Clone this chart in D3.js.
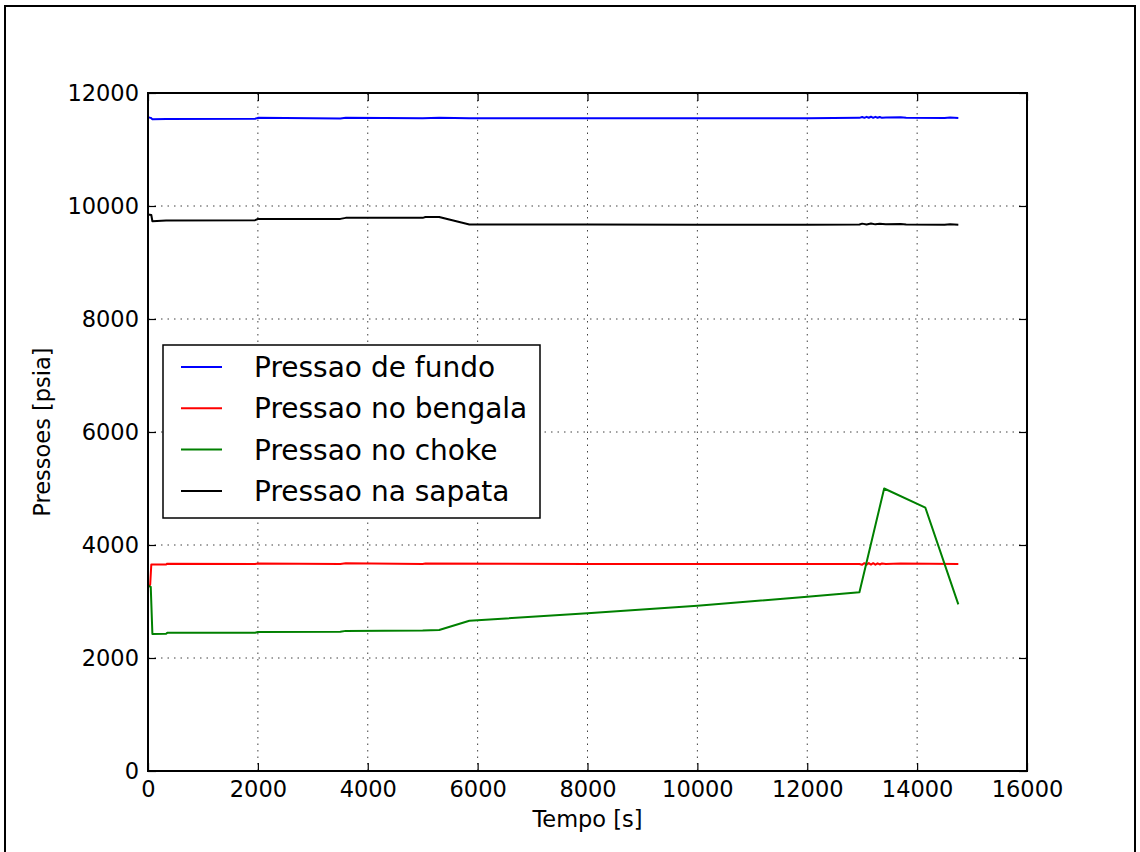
<!DOCTYPE html>
<html>
<head>
<meta charset="utf-8">
<script src="https://cdn.jsdelivr.net/npm/d3@7"></script>
<style>
  body { margin: 0; background: #fff; }
  svg { display: block; font-family: "DejaVu Sans", sans-serif; }
</style>
</head>
<body>
<svg width="1140" height="852"></svg>
<script>
// Tick values
const xTicks = [0, 2000, 4000, 6000, 8000, 10000, 12000, 14000, 16000];
const yTicks = [0, 2000, 4000, 6000, 8000, 10000, 12000];

// Pressao de fundo (blue)
const fundoT = [0, 50, 80, 330, 1950, 2000, 3500, 3600, 5000, 5300, 5850, 8000, 10000, 12000, 12950, 13000, 13040, 13080, 13120, 13160, 13200, 13240, 13280, 13320, 13360, 13430, 13700, 13800, 14500, 14600, 14750];
const fundoV = [11570, 11560, 11535, 11540, 11545, 11560, 11550, 11560, 11555, 11560, 11555, 11555, 11555, 11555, 11560, 11575, 11560, 11578, 11562, 11580, 11560, 11578, 11562, 11575, 11560, 11565, 11570, 11560, 11558, 11566, 11558];

// Pressao no bengala (red)
const bengalaT = [0, 40, 60, 330, 350, 1950, 2000, 3500, 3600, 5000, 5050, 8000, 10000, 12000, 12950, 13000, 13040, 13080, 13120, 13160, 13200, 13240, 13280, 13320, 13360, 13430, 13700, 14750];
const bengalaV = [3250, 3300, 3655, 3655, 3670, 3665, 3672, 3665, 3675, 3665, 3672, 3665, 3665, 3662, 3665, 3652, 3678, 3652, 3680, 3654, 3678, 3652, 3676, 3655, 3674, 3665, 3672, 3665];

// Pressao no choke (green)
const chokeT = [0, 50, 80, 330, 350, 1950, 2000, 3500, 3600, 5000, 5300, 5850, 8000, 10000, 12000, 12950, 13400, 14150, 14750];
const chokeV = [3280, 3260, 2425, 2430, 2445, 2448, 2460, 2465, 2480, 2485, 2495, 2660, 2790, 2925, 3085, 3165, 5000, 4660, 2950];

// Pressao na sapata (black)
const sapataT = [0, 60, 80, 330, 1950, 2000, 3500, 3600, 5000, 5050, 5300, 5850, 8000, 10000, 12000, 12950, 13000, 13080, 13160, 13240, 13320, 13430, 13700, 13800, 14500, 14600, 14750];
const sapataV = [9850, 9840, 9730, 9745, 9750, 9770, 9772, 9790, 9790, 9805, 9805, 9672, 9672, 9670, 9670, 9672, 9688, 9674, 9690, 9675, 9686, 9675, 9680, 9672, 9670, 9678, 9670];

const seriesNames = ["Pressao de fundo", "Pressao no bengala", "Pressao no choke", "Pressao na sapata"];
const seriesColors = ["#0000ff", "#ff0000", "#008000", "#000000"];

const series = [
  {name: seriesNames[0], color: seriesColors[0], t: fundoT, v: fundoV},
  {name: seriesNames[1], color: seriesColors[1], t: bengalaT, v: bengalaV},
  {name: seriesNames[2], color: seriesColors[2], t: chokeT, v: chokeV},
  {name: seriesNames[3], color: seriesColors[3], t: sapataT, v: sapataV}
];

const svg = d3.select("svg");
const margin = {top: 93, right: 113, bottom: 81, left: 148};
const width = 1140, height = 852;

const x = d3.scaleLinear().domain([0, 16000]).range([margin.left, width - margin.right]);
const y = d3.scaleLinear().domain([0, 12000]).range([height - margin.bottom, margin.top]);

// Figure edge
svg.append("path")
  .attr("d", `M5,852 L5,6 L1135,6 L1135,852`)
  .attr("fill", "none")
  .attr("stroke", "#000")
  .attr("stroke-width", 2);

// Grid
const grid = svg.append("g");
grid.selectAll("line.gx").data(xTicks.slice(1, -1)).join("line")
  .attr("x1", d => x(d)).attr("x2", d => x(d))
  .attr("y1", y(0)).attr("y2", y(12000))
  .attr("stroke", "#000").attr("stroke-opacity", 0.75)
  .attr("stroke-width", 1).attr("stroke-dasharray", "1.5,5");
grid.selectAll("line.gy").data(yTicks.slice(1, -1)).join("line")
  .attr("y1", d => y(d)).attr("y2", d => y(d))
  .attr("x1", x(0)).attr("x2", x(16000))
  .attr("stroke", "#000").attr("stroke-opacity", 0.75)
  .attr("stroke-width", 1).attr("stroke-dasharray", "1.5,5");

// Lines
const line = d3.line().x(d => x(d[0])).y(d => y(d[1]));
series.forEach(s => {
  svg.append("path")
    .datum(s.t.map((t, i) => [t, s.v[i]]))
    .attr("fill", "none")
    .attr("stroke", s.color)
    .attr("stroke-width", 2)
    .attr("stroke-linejoin", "round")
    .attr("d", line);
});

// Axes (ticks inward, on all sides)
const tickLen = 8;
const axB = svg.append("g").attr("transform", `translate(0,${y(0)})`)
  .call(d3.axisBottom(x).tickValues(xTicks).tickFormat(d3.format("d")).tickSizeInner(-tickLen).tickSizeOuter(0).tickPadding(10));
const axT = svg.append("g").attr("transform", `translate(0,${y(12000)})`)
  .call(d3.axisTop(x).tickValues(xTicks).tickFormat("").tickSizeInner(-tickLen).tickSizeOuter(0));
const axL = svg.append("g").attr("transform", `translate(${x(0)},0)`)
  .call(d3.axisLeft(y).tickValues(yTicks).tickFormat(d3.format("d")).tickSizeInner(-tickLen).tickSizeOuter(0).tickPadding(9));
const axR = svg.append("g").attr("transform", `translate(${x(16000)},0)`)
  .call(d3.axisRight(y).tickValues(yTicks).tickFormat("").tickSizeInner(-tickLen).tickSizeOuter(0));

[axB, axT, axL, axR].forEach(a => {
  a.select(".domain").remove();
  a.selectAll(".tick line").attr("stroke", "#000").attr("stroke-width", 1.2);
  a.selectAll("text").attr("font-family", "DejaVu Sans").attr("font-size", 22.5).attr("fill", "#000");
});

// Frame
svg.append("rect")
  .attr("x", x(0)).attr("y", y(12000))
  .attr("width", x(16000) - x(0)).attr("height", y(0) - y(12000))
  .attr("fill", "none").attr("stroke", "#000").attr("stroke-width", 2);

// Axis labels
svg.append("text")
  .attr("x", (x(0) + x(16000)) / 2).attr("y", 827)
  .attr("text-anchor", "middle").attr("font-size", 22.5)
  .text("Tempo [s]");
svg.append("text")
  .attr("transform", `translate(50,${(y(0) + y(12000)) / 2}) rotate(-90)`)
  .attr("text-anchor", "middle").attr("font-size", 22.5)
  .text("Pressoes [psia]");

// Legend
const legend = svg.append("g").attr("transform", "translate(163,345)");
legend.append("rect")
  .attr("width", 377).attr("height", 173)
  .attr("fill", "#fff").attr("stroke", "#000").attr("stroke-width", 1.5);
series.forEach((s, i) => {
  const cy = 22 + i * 41.3;
  legend.append("line")
    .attr("x1", 18).attr("x2", 59).attr("y1", cy).attr("y2", cy)
    .attr("stroke", s.color).attr("stroke-width", 2);
  legend.append("text")
    .attr("x", 91).attr("y", cy + 10)
    .attr("font-size", 28)
    .text(s.name);
});
</script>
</body>
</html>
